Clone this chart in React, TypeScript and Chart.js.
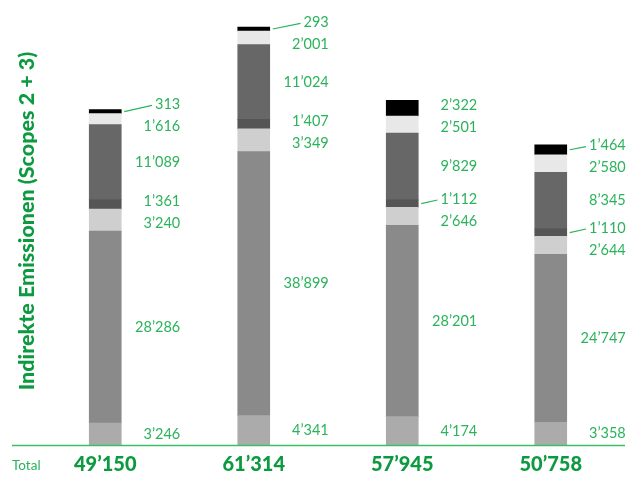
import React, { useEffect, useRef } from "react";
import { Chart, registerables } from "chart.js";

Chart.register(...registerables);

// ---- data ----
const totals = ["49’150", "61’314", "57’945", "50’758"];
const seg1 = [3246, 4341, 4174, 3358];
const seg2 = [28286, 38899, 28201, 24747];
const seg3 = [3240, 3349, 2646, 2644];
const seg4 = [1361, 1407, 1112, 1110];
const seg5 = [11089, 11024, 9829, 8345];
const seg6 = [1616, 2001, 2501, 2580];
const seg7 = [313, 293, 2322, 1464];
const yTitle = "Indirekte Emissionen (Scopes 2 + 3)";
const totalCaption = "Total";

const segments = [seg1, seg2, seg3, seg4, seg5, seg6, seg7];
const segColors = ["#ababab", "#8a8a8a", "#cfcfcf", "#555555", "#676767", "#e8e8e8", "#000000"];

const GREEN_LABEL = "#2bb35c";
const GREEN_DARK = "#0c9a40";
const GREEN_LINE = "#3cbf63";
const FONT = "Lato, 'Open Sans', sans-serif";

const fmt = (v: number) => {
  const s = String(Math.round(v));
  return s.replace(/\B(?=(\d{3})+(?!\d))/g, "’");
};

const overlayPlugin = {
  id: "overlay",
  afterDraw(chart: any) {
    const ctx = chart.ctx as CanvasRenderingContext2D;
    const area = chart.chartArea;
    ctx.save();
    // baseline
    ctx.strokeStyle = GREEN_LINE;
    ctx.lineWidth = 1.5;
    ctx.beginPath();
    ctx.moveTo(12, area.bottom + 0.5);
    ctx.lineTo(area.right, area.bottom + 0.5);
    ctx.stroke();

    // segment labels
    ctx.font = `400 14.5px ${FONT}`;
    ctx.fillStyle = GREEN_LABEL;
    ctx.textBaseline = "middle";
    ctx.textAlign = "right";
    const G = 22;
    const n = totals.length;
    for (let j = 0; j < n; j++) {
      const items: any[] = [];
      segments.forEach((arr, i) => {
        const el: any = chart.getDatasetMeta(i).data[j];
        const top = Math.min(el.y, el.base);
        const bot = Math.max(el.y, el.base);
        items.push({ v: arr[j], c: (top + bot) / 2, pos: (top + bot) / 2, x: el.x, w: el.width });
      });
      for (let it = 0; it < 20; it++) {
        for (let k = 0; k < items.length - 1; k++) {
          const lo = items[k], up = items[k + 1];
          const d = lo.pos - up.pos;
          if (d < G) {
            const push = (G - d) / 2;
            lo.pos += push;
            up.pos -= push;
          }
        }
      }
      items.forEach((o) => {
        const rx = o.x + 75;
        const txt = fmt(o.v);
        ctx.fillText(txt, rx, o.pos);
        const up = o.c - o.pos;
        if (up > 3.7) {
          const tw = ctx.measureText(txt).width;
          ctx.strokeStyle = GREEN_LABEL;
          ctx.lineWidth = 1.2;
          ctx.beginPath();
          ctx.moveTo(o.x + o.w / 2 + 3, o.c);
          ctx.lineTo(rx - tw - 3, o.pos + 1);
          ctx.stroke();
        }
      });
      // totals
      const el0: any = chart.getDatasetMeta(0).data[j];
      ctx.save();
      ctx.font = `900 20px ${FONT}`;
      ctx.fillStyle = GREEN_DARK;
      ctx.textAlign = "center";
      ctx.fillText(totals[j], el0.x, area.bottom + 20);
      ctx.restore();
    }

    // "Total"
    ctx.font = `400 13.5px ${FONT}`;
    ctx.fillStyle = GREEN_LABEL;
    ctx.textAlign = "left";
    ctx.fillText(totalCaption, 12, area.bottom + 21);

    // y title
    ctx.save();
    ctx.translate(27, 221);
    ctx.rotate(-Math.PI / 2);
    ctx.font = `900 21.5px ${FONT}`;
    ctx.fillStyle = GREEN_DARK;
    ctx.textAlign = "center";
    ctx.fillText(yTitle, 0, 0);
    ctx.restore();

    ctx.restore();
  },
};

export default function App() {
  const ref = useRef<HTMLCanvasElement | null>(null);
  useEffect(() => {
    if (!ref.current) return;
    const chart = new Chart(ref.current, {
      type: "bar",
      data: {
        labels: totals,
        datasets: segments.map((arr, i) => ({
          label: `S${i + 1}`,
          data: arr,
          backgroundColor: segColors[i],
          borderWidth: 0,
          barThickness: 32,
          minBarLength: i === segments.length - 1 ? 4 : 0,
        })),
      },
      options: {
        responsive: false,
        animation: false,
        layout: { padding: { left: 31, right: 11, top: 4, bottom: 32 } },
        plugins: { legend: { display: false }, tooltip: { enabled: false } },
        scales: {
          x: { stacked: true, display: false },
          y: { stacked: true, display: false, min: 0, max: 65000 },
        },
      },
      plugins: [overlayPlugin],
    });
    return () => chart.destroy();
  }, []);
  return (
    <div style={{ position: "fixed", left: 0, top: 0, width: 636, height: 477, background: "#fff" }}>
      <canvas ref={ref} width={636} height={477} />
    </div>
  );
}
